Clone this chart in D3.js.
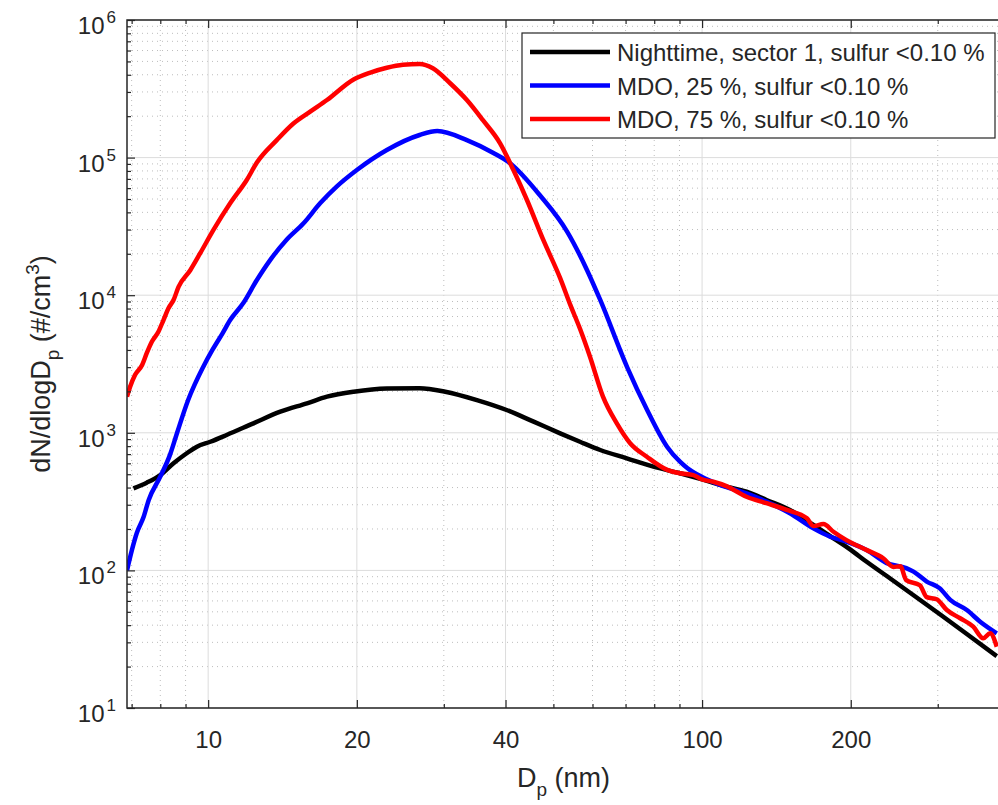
<!DOCTYPE html>
<html>
    <head>
        <title>Size distribution</title>
        <script src="https://d3js.org/d3.v7.min.js" charset="utf-8"></script>
        <style>
            body { margin: 0; background: #fff; }
            text { font-family: "Liberation Sans", Arial, sans-serif; fill: #262626; }
        </style>
    </head>
    <body>
        <script>
            // particle diameters (nm) and dN/dlogDp (#/cm3)
            const nightD = [7.06, 7.51, 8.0, 8.51, 9.05, 9.49, 10.1, 10.9, 12.35, 14.0, 15.85, 17.4, 19.7, 23.0, 26.8, 30.2, 35.0, 40.2, 45.6, 51.6, 56.6, 62.2, 70.4, 79.7, 90.2, 100, 108.7, 123, 135, 150.6, 168, 184.5, 200, 215, 236.5, 268, 303, 343.5, 395];
            const nightN = [395, 434, 493, 600, 710, 793, 861, 964, 1172, 1423, 1637, 1830, 1990, 2100, 2110, 1990, 1730, 1465, 1205, 991, 861, 750, 652, 567, 508, 458, 418, 373, 325, 275, 214, 171, 141, 116, 91, 66, 48, 34.5, 23.8];

            const mdo25D = [6.85, 7.01, 7.17, 7.4, 7.58, 8.0, 8.38, 8.65, 9.11, 9.77, 10.2, 10.7, 11.08, 11.78, 12.55, 13.35, 14.4, 15.6, 16.85, 18.2, 20, 23, 26.8, 29.1, 33.4, 37.8, 40.8, 47, 53.3, 58.5, 62.2, 70.5, 77.4, 85, 90.2, 93.3, 100, 108.7, 123, 135, 150.6, 168, 181.5, 196, 215, 236.5, 259, 268, 285, 303, 318, 343.5, 365.6, 395];
            const mdo25N = [100, 141, 187, 244, 325, 480, 700, 997, 1730, 3006, 4000, 5310, 6600, 8770, 12900, 18000, 25200, 33300, 46500, 61500, 81200, 113500, 146000, 156000, 134000, 108000, 91400, 53000, 29000, 15200, 9230, 3006, 1465, 789, 617, 555, 477, 418, 363, 316, 260, 202, 176, 162, 141, 113, 104, 98, 83, 74, 61, 51.5, 42.4, 34.9];

            const mdo75D = [6.85, 6.95, 7.11, 7.35, 7.51, 7.69, 7.93, 8.12, 8.31, 8.51, 8.71, 9.2, 9.63, 10.25, 11.08, 11.97, 12.55, 13.77, 14.88, 16.09, 17.4, 19.7, 21.3, 23, 24.8, 26.8, 28.5, 30.9, 33.4, 36.0, 39.0, 41.5, 44.2, 47.7, 51.6, 54.1, 56.6, 59.3, 63, 67.2, 71.5, 77.3, 85, 90.2, 96, 100, 105.4, 112, 123, 135, 148.4, 163, 168, 176, 184.5, 196, 215, 233, 244, 252, 259, 276, 285, 298.5, 313, 333, 354, 371, 383, 395];
            const mdo75N = [1830, 2160, 2630, 3110, 3790, 4590, 5430, 6600, 8040, 9230, 11500, 15200, 20100, 29800, 46500, 68700, 92000, 134000, 177000, 216000, 262000, 370000, 415000, 450000, 473000, 479000, 446000, 347000, 262000, 187000, 127000, 81200, 49200, 25200, 13300, 8500, 5700, 3570, 1830, 1170, 840, 670, 537, 508, 493, 458, 441, 410, 343, 308, 275, 239, 210, 217, 191, 166, 141, 122, 106, 107, 85, 78, 64, 61.7, 51.5, 44.9, 39, 32.1, 34.9, 27.9];

            const seriesNames = ["Nighttime, sector 1, sulfur <0.10 %", "MDO, 25 %, sulfur <0.10 %", "MDO, 75 %, sulfur <0.10 %"];
            const seriesColors = ["#000000", "#0000ff", "#ff0000"];

            const xMajor = [10, 20, 40, 100, 200];
            const xMinor = [7, 8, 9, 30, 50, 60, 70, 80, 90, 300];
            const yDecades = [1, 2, 3, 4, 5, 6];

            const W = 998, H = 805;
            const pl = 127, pt = 20, pr = 1000, pb = 708;

            const x = d3.scaleLog().domain([6.85, 401]).range([pl, pr]);
            const y = d3.scaleLog().domain([10, 1e6]).range([pb, pt]);

            const svg = d3.select("body").append("svg")
                .attr("width", W)
                .attr("height", H);

            // y minor values 2..9 in each decade
            var yMinor = [];
            yDecades.slice(0, -1).forEach(e => {
                for (var k = 2; k <= 9; k++) yMinor.push(k * Math.pow(10, e));
            });
            var yMajor = yDecades.map(e => Math.pow(10, e));

            // grid
            const grid = svg.append("g");
            grid.selectAll(".gxm").data(xMinor).join("line")
                .attr("class", "gxm")
                .attr("x1", d => x(d)).attr("x2", d => x(d))
                .attr("y1", pt).attr("y2", pb)
                .attr("stroke", "#bdbdbd").attr("stroke-dasharray", "1,4");
            grid.selectAll(".gym").data(yMinor).join("line")
                .attr("class", "gym")
                .attr("x1", pl).attr("x2", pr)
                .attr("y1", d => y(d)).attr("y2", d => y(d))
                .attr("stroke", "#bdbdbd").attr("stroke-dasharray", "1,4");
            grid.selectAll(".gxM").data(xMajor).join("line")
                .attr("class", "gxM")
                .attr("x1", d => x(d)).attr("x2", d => x(d))
                .attr("y1", pt).attr("y2", pb)
                .attr("stroke", "#dcdcdc");
            grid.selectAll(".gyM").data(yMajor).join("line")
                .attr("class", "gyM")
                .attr("x1", pl).attr("x2", pr)
                .attr("y1", d => y(d)).attr("y2", d => y(d))
                .attr("stroke", "#dcdcdc");

            // curves
            svg.append("clipPath").attr("id", "clip")
                .append("rect").attr("x", pl).attr("y", pt)
                .attr("width", pr - pl).attr("height", pb - pt);

            const series = [
                d3.zip(nightD, nightN),
                d3.zip(mdo25D, mdo25N),
                d3.zip(mdo75D, mdo75N)
            ];
            const line = d3.line()
                .x(d => x(d[0]))
                .y(d => y(d[1]))
                .curve(d3.curveMonotoneX);

            svg.append("g").attr("clip-path", "url(#clip)")
                .selectAll("path").data(series).join("path")
                .attr("d", line)
                .attr("fill", "none")
                .attr("stroke", (d, i) => seriesColors[i])
                .attr("stroke-width", 4.5)
                .attr("stroke-linejoin", "round");

            // axes, ticks pointing inward like matlab
            const axisStyle = g => {
                g.select(".domain").remove();
                g.selectAll("line").attr("stroke", "#262626").attr("stroke-width", 1.2);
            };
            svg.append("g").attr("transform", `translate(0,${pb})`)
                .call(d3.axisBottom(x).tickValues(xMajor).tickSize(-8).tickPadding(23).tickFormat(d3.format("d")))
                .call(axisStyle)
                .selectAll("text").attr("font-size", 24).attr("font-family", null).attr("fill", null);
            svg.append("g").attr("transform", `translate(0,${pb})`)
                .call(d3.axisBottom(x).tickValues(xMinor).tickSize(-4).tickFormat(""))
                .call(axisStyle);
            svg.append("g").attr("transform", `translate(0,${pt})`)
                .call(d3.axisTop(x).tickValues(xMajor).tickSize(-8).tickFormat(""))
                .call(axisStyle);
            svg.append("g").attr("transform", `translate(0,${pt})`)
                .call(d3.axisTop(x).tickValues(xMinor).tickSize(-4).tickFormat(""))
                .call(axisStyle);
            svg.append("g").attr("transform", `translate(${pl},0)`)
                .call(d3.axisLeft(y).tickValues(yMajor).tickSize(-8).tickFormat(""))
                .call(axisStyle);
            svg.append("g").attr("transform", `translate(${pl},0)`)
                .call(d3.axisLeft(y).tickValues(yMinor).tickSize(-4).tickFormat(""))
                .call(axisStyle);

            // y tick labels 10^n
            const ylab = svg.append("g").selectAll("text").data(yDecades).join("text")
                .attr("x", 116)
                .attr("y", d => y(Math.pow(10, d)) + 14)
                .attr("text-anchor", "end")
                .attr("font-size", 24);
            ylab.append("tspan").text("10");
            ylab.append("tspan").attr("dx", 2).attr("dy", -11).attr("font-size", 17).text(d => d);

            // box
            svg.append("path")
                .attr("d", `M${pr},${pt}H${pl}V${pb}H${pr}`)
                .attr("fill", "none").attr("stroke", "#262626").attr("stroke-width", 1.5);

            // axis labels
            const xl = svg.append("text")
                .attr("x", (pl + pr) / 2).attr("y", 787)
                .attr("text-anchor", "middle").attr("font-size", 27);
            xl.append("tspan").text("D");
            xl.append("tspan").attr("dy", 9).attr("font-size", 19).text("p");
            xl.append("tspan").attr("dy", -9).text(" (nm)");

            const yl = svg.append("text")
                .attr("transform", `translate(50,${(pt + pb) / 2}) rotate(-90)`)
                .attr("text-anchor", "middle").attr("font-size", 27);
            yl.append("tspan").text("dN/dlogD");
            yl.append("tspan").attr("dy", 9).attr("font-size", 19).text("p");
            yl.append("tspan").attr("dy", -9).text(" (#/cm");
            yl.append("tspan").attr("dy", -11).attr("font-size", 19).text("3");
            yl.append("tspan").attr("dy", 11).text(")");

            // legend
            const lg = svg.append("g");
            lg.append("rect")
                .attr("x", 522).attr("y", 33).attr("width", 473).attr("height", 105)
                .attr("fill", "#fff").attr("stroke", "#262626").attr("stroke-width", 1.2);
            const rows = lg.selectAll("g").data(seriesNames).join("g")
                .attr("transform", (d, i) => `translate(0,${52 + i * 33.5})`);
            rows.append("line")
                .attr("x1", 530).attr("x2", 610)
                .attr("stroke", (d, i) => seriesColors[i])
                .attr("stroke-width", 4.5);
            rows.append("text")
                .attr("x", 617).attr("y", 9)
                .attr("font-size", 24)
                .text(d => d);
        </script>
    </body>
</html>
